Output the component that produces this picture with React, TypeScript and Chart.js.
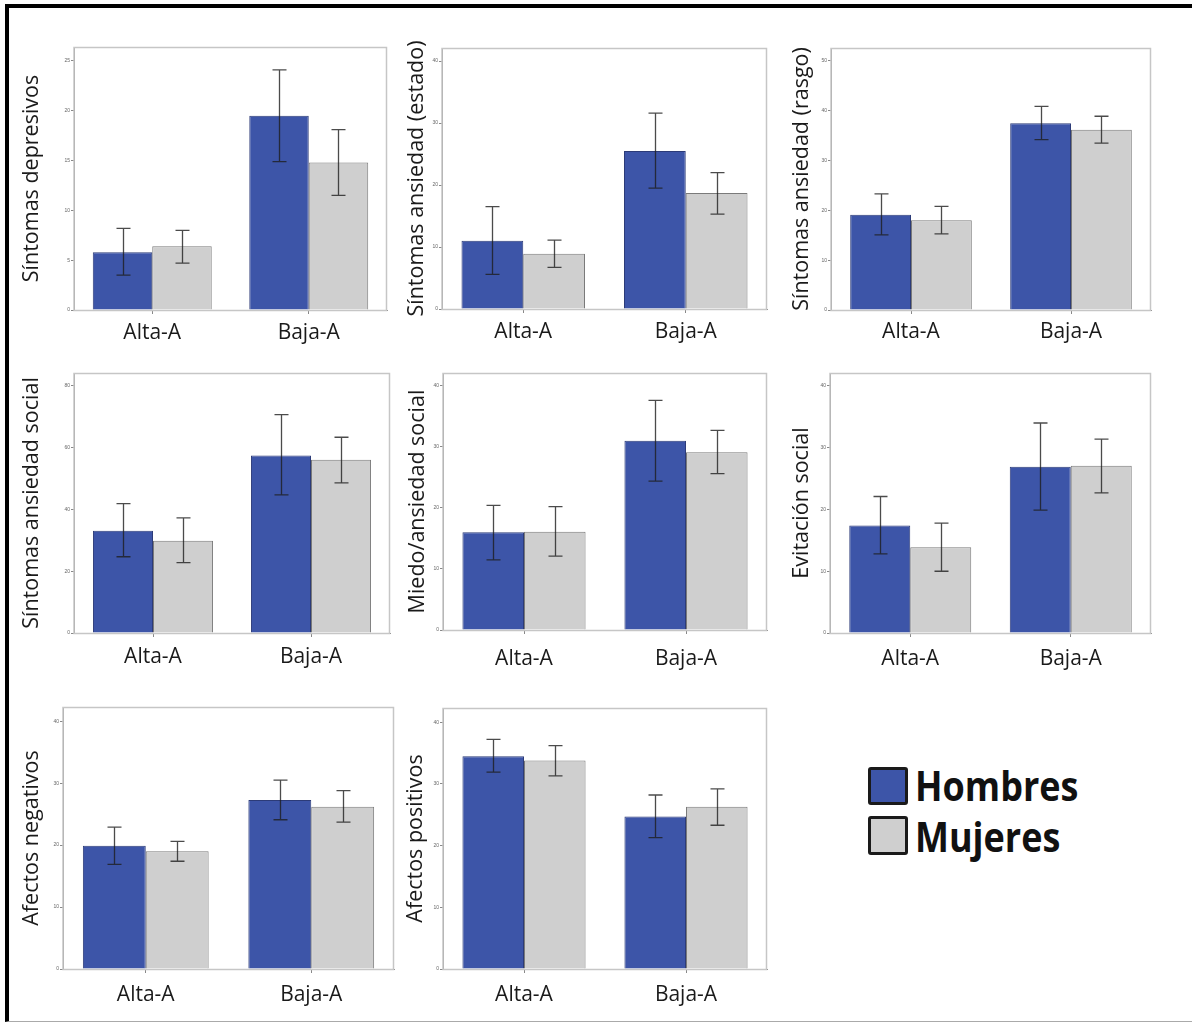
import React, { useEffect, useRef } from 'react';
import { Chart, registerables } from 'chart.js';

Chart.register(...registerables);

// ---------- data ----------
const categories = ['Alta-A', 'Baja-A'];
const seriesNames = ['Hombres', 'Mujeres'];
const panelTitles = [
  'Síntomas depresivos',
  'Síntomas ansiedad (estado)',
  'Síntomas ansiedad (rasgo)',
  'Síntomas ansiedad social',
  'Miedo/ansiedad social',
  'Evitación social',
  'Afectos negativos',
  'Afectos positivos',
];
const yMaxValues = [26.4, 42.1, 52.6, 84.2, 42.1, 42.1, 42.3, 42.3];
const yStepValues = [5, 10, 10, 20, 10, 10, 10, 10];

const hombresMeans = [[5.8, 19.5], [11.0, 25.5], [19.1, 37.5], [33.1, 57.5], [16.0, 31.0], [17.4, 26.9], [19.9, 27.3], [34.5, 24.7]];
const hombresLow = [[3.5, 14.9], [5.6, 19.5], [15.1, 34.2], [24.7, 44.7], [11.5, 24.4], [12.8, 19.9], [16.9, 24.1], [31.9, 21.3]];
const hombresHigh = [[8.2, 24.1], [16.5, 31.6], [23.3, 40.9], [41.9, 70.7], [20.4, 37.6], [22.1, 34.0], [22.9, 30.5], [37.2, 28.2]];

const mujeresMeans = [[6.4, 14.8], [8.9, 18.7], [18.0, 36.2], [29.9, 56.1], [16.1, 29.1], [13.9, 27.1], [19.0, 26.2], [33.8, 26.3]];
const mujeresLow = [[4.7, 11.5], [6.7, 15.3], [15.3, 33.5], [22.8, 48.6], [12.1, 25.6], [10.0, 22.7], [17.4, 23.7], [31.3, 23.3]];
const mujeresHigh = [[8.0, 18.1], [11.1, 22.0], [20.8, 38.9], [37.3, 63.4], [20.2, 32.7], [17.8, 31.4], [20.6, 28.8], [36.2, 29.2]];

// ---------- layout (plot-area boxes, pixels) ----------
const panelBoxes = [
  { l: 74, t: 47, r: 387, b: 310, titleOffset: 42, labelPad: 6 },
  { l: 442, t: 48, r: 767, b: 309, titleOffset: 25, labelPad: 6 },
  { l: 831, t: 48, r: 1151, b: 310, titleOffset: 29, labelPad: 5 },
  { l: 74, t: 373, r: 390, b: 633, titleOffset: 42, labelPad: 7 },
  { l: 443, t: 373, r: 767, b: 630, titleOffset: 25, labelPad: 12 },
  { l: 830, t: 373, r: 1151, b: 633, titleOffset: 28, labelPad: 9 },
  { l: 63, t: 707, r: 394, b: 969, titleOffset: 31, labelPad: 9 },
  { l: 443, t: 708, r: 767, b: 969, titleOffset: 27, labelPad: 9 },
];

const BLUE = '#3D55A8';
const GRAY = '#CFCFCF';
const X_AXIS_H = 44;
const PAD_TOP = 32;
const TITLE_SIZE = 21.5;

function Panel({ index }: { index: number }) {
  const ref = useRef<HTMLCanvasElement | null>(null);
  const box = panelBoxes[index];
  const titleHalf = (TITLE_SIZE * 1.2) / 2;
  const yw = Math.round(box.titleOffset + titleHalf + 2);
  const left = box.l - yw;
  const top = box.t - PAD_TOP;
  const width = box.r - left + 2;
  const height = box.b - box.t + PAD_TOP + X_AXIS_H + 2;

  useEffect(() => {
    if (!ref.current) return;
    const errors = [
      [hombresLow[index], hombresHigh[index]],
      [mujeresLow[index], mujeresHigh[index]],
    ];
    const framePlugin = {
      id: 'frame',
      beforeDatasetsDraw(chart: any) {
        const { ctx, chartArea } = chart;
        ctx.save();
        ctx.strokeStyle = '#c6c6c6';
        ctx.lineWidth = 1.5;
        ctx.strokeRect(chartArea.left, chartArea.top + 0.5, chartArea.right - chartArea.left - 0.5, chartArea.bottom - chartArea.top);
        ctx.restore();
      },
    };
    const errorPlugin = {
      id: 'errorBars',
      afterDatasetsDraw(chart: any) {
        const { ctx } = chart;
        const yScale = chart.scales.y;
        ctx.save();
        ctx.strokeStyle = 'rgba(30,30,30,0.8)';
        ctx.lineWidth = 1.3;
        for (let d = 0; d < 2; d++) {
          const meta = chart.getDatasetMeta(d);
          meta.data.forEach((bar: any, i: number) => {
            const x = Math.round(bar.x) + 0.5;
            const yl = yScale.getPixelForValue(errors[d][0][i]);
            const yh = yScale.getPixelForValue(errors[d][1][i]);
            ctx.beginPath();
            ctx.moveTo(x, yh);
            ctx.lineTo(x, yl);
            ctx.moveTo(x - 7, yh);
            ctx.lineTo(x + 7, yh);
            ctx.moveTo(x - 7, yl);
            ctx.lineTo(x + 7, yl);
            ctx.stroke();
          });
        }
        ctx.restore();
      },
    };

    const chart = new Chart(ref.current, {
      type: 'bar',
      data: {
        labels: categories,
        datasets: [
          {
            label: seriesNames[0],
            data: hombresMeans[index],
            backgroundColor: BLUE,
            borderColor: '#2c3b78',
            borderWidth: 1,
            categoryPercentage: 0.76,
            barPercentage: 1.0,
          },
          {
            label: seriesNames[1],
            data: mujeresMeans[index],
            backgroundColor: GRAY,
            borderColor: '#7a7a7a',
            borderWidth: 1,
            categoryPercentage: 0.76,
            barPercentage: 1.0,
          },
        ],
      },
      options: {
        responsive: false,
        animation: false,
        devicePixelRatio: 1,
        layout: { padding: { top: PAD_TOP, right: 2, bottom: 2, left: 0 } },
        plugins: { legend: { display: false }, tooltip: { enabled: false } },
        scales: {
          x: {
            offset: true,
            grid: { display: true, offset: false, drawOnChartArea: false, drawTicks: true, tickLength: 4, color: '#888' },
            border: { display: true, color: '#888', width: 1 },
            ticks: { font: { family: 'Open Sans', size: 21 }, color: '#1a1a1a', padding: box.labelPad, maxRotation: 0 },
            afterFit: (s: any) => { s.height = X_AXIS_H; },
          },
          y: {
            min: 0,
            max: yMaxValues[index],
            grid: { display: true, drawOnChartArea: false, drawTicks: true, tickLength: 3, color: '#888' },
            border: { display: true, color: '#888', width: 1 },
            ticks: {
              stepSize: yStepValues[index],
              includeBounds: false,
              font: { family: 'Liberation Sans', size: 5 },
              color: '#666',
              padding: 1,
            },
            title: {
              display: true,
              text: panelTitles[index],
              font: { family: 'Open Sans', size: TITLE_SIZE },
              color: '#1a1a1a',
              padding: { top: 2, bottom: 0 },
            },
            afterFit: (s: any) => { s.width = yw; },
          },
        },
      },
      plugins: [framePlugin, errorPlugin],
    } as any);
    return () => chart.destroy();
  }, [index]);

  return (
    <canvas
      ref={ref}
      width={width}
      height={height}
      style={{ position: 'absolute', left, top, width, height }}
    />
  );
}

function Legend() {
  const boxStyle = (bg: string, top: number, h: number): React.CSSProperties => ({
    position: 'absolute', left: 868, top, width: 40, height: h, background: bg,
    border: '3px solid #1a1a1a', borderRadius: 3, boxSizing: 'border-box',
  });
  const textStyle = (top: number): React.CSSProperties => ({
    position: 'absolute', left: 915, top, fontFamily: 'Open Sans', fontWeight: 700,
    fontSize: 36, lineHeight: '36px', color: '#111', whiteSpace: 'nowrap',
    transform: 'scale(1, 1.15)', transformOrigin: 'left center',
  });
  return (
    <>
      <div style={boxStyle(BLUE, 767, 38)} />
      <div style={boxStyle(GRAY, 816, 39)} />
      <div style={textStyle(768)}>{seriesNames[0]}</div>
      <div style={textStyle(819)}>{seriesNames[1]}</div>
    </>
  );
}

export default function App() {
  return (
    <div style={{ position: 'absolute', left: 0, top: 0, width: 1192, height: 1023, background: '#fff', overflow: 'hidden' }}>
      <div style={{
        position: 'absolute', left: 5, top: 4, width: 1187, height: 1018,
        borderLeft: '4px solid #000', borderTop: '4px solid #000', borderBottom: '1px solid #aaa',
        boxSizing: 'border-box',
      }} />
      {panelBoxes.map((_, i) => <Panel key={i} index={i} />)}
      <Legend />
    </div>
  );
}
